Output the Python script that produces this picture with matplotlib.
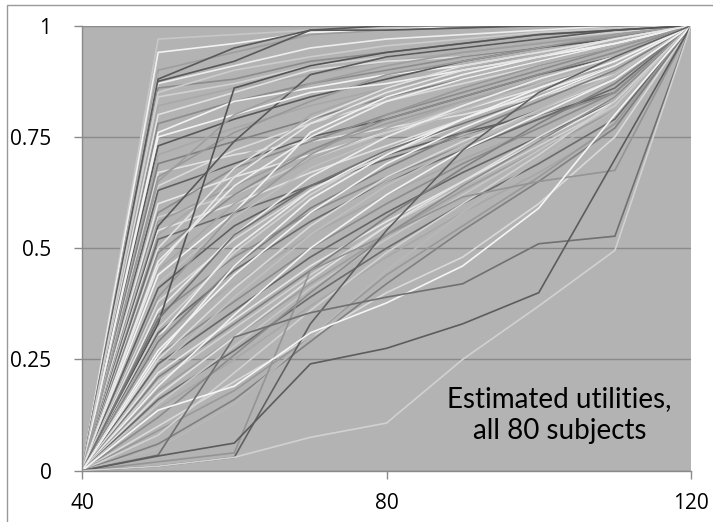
import matplotlib
matplotlib.use("Agg")
import matplotlib.pyplot as plt
from matplotlib.patches import Rectangle

# price levels (x) and the estimated utility of each subject at 50..110
# (every curve starts at 0 for 40 and ends at 1 for 120)
prices = [40, 50, 60, 70, 80, 90, 100, 110, 120]

utilities = [
    [0.97, 0.98, 0.99, 0.995, 1.0, 1.0, 1.0],
    [0.94, 0.96, 0.985, 0.99, 1.0, 1.0, 1.0],
    [0.90, 0.94, 0.98, 0.99, 0.995, 1.0, 1.0],
    [0.89, 0.93, 0.965, 0.985, 0.99, 1.0, 1.0],
    [0.875, 0.92, 0.99, 0.99, 0.995, 1.0, 1.0],
    [0.87, 0.91, 0.95, 0.97, 0.98, 0.99, 1.0],
    [0.86, 0.88, 0.92, 0.94, 0.96, 0.98, 0.99],
    [0.84, 0.87, 0.91, 0.93, 0.95, 0.97, 0.985],
    [0.82, 0.86, 0.89, 0.92, 0.94, 0.96, 0.98],
    [0.80, 0.85, 0.90, 0.92, 0.93, 0.95, 0.97],
    [0.78, 0.83, 0.87, 0.90, 0.93, 0.95, 0.975],
    [0.76, 0.83, 0.86, 0.89, 0.91, 0.94, 0.97],
    [0.88, 0.95, 0.99, 1.0, 1.0, 1.0, 1.0],
    [0.85, 0.90, 0.93, 0.955, 0.97, 0.985, 0.995],
    [0.73, 0.79, 0.84, 0.88, 0.92, 0.95, 0.97],
    [0.71, 0.77, 0.82, 0.86, 0.89, 0.93, 0.96],
    [0.69, 0.74, 0.79, 0.84, 0.88, 0.92, 0.96],
    [0.67, 0.71, 0.74, 0.77, 0.80, 0.84, 0.89],
    [0.66, 0.76, 0.83, 0.89, 0.92, 0.95, 0.98],
    [0.64, 0.72, 0.78, 0.83, 0.87, 0.91, 0.95],
    [0.63, 0.69, 0.75, 0.79, 0.84, 0.89, 0.93],
    [0.61, 0.70, 0.77, 0.85, 0.89, 0.93, 0.96],
    [0.60, 0.66, 0.71, 0.76, 0.81, 0.86, 0.92],
    [0.58, 0.68, 0.74, 0.80, 0.85, 0.90, 0.95],
    [0.57, 0.62, 0.70, 0.76, 0.82, 0.88, 0.93],
    [0.56, 0.64, 0.72, 0.78, 0.83, 0.87, 0.91],
    [0.55, 0.74, 0.89, 0.93, 0.95, 0.97, 0.99],
    [0.54, 0.60, 0.67, 0.73, 0.79, 0.85, 0.91],
    [0.53, 0.66, 0.80, 0.86, 0.90, 0.94, 0.97],
    [0.52, 0.58, 0.64, 0.70, 0.75, 0.81, 0.88],
    [0.75, 0.80, 0.85, 0.87, 0.90, 0.93, 0.96],
    [0.65, 0.80, 0.87, 0.91, 0.94, 0.96, 0.98],
    [0.50, 0.68, 0.79, 0.86, 0.91, 0.94, 0.97],
    [0.49, 0.62, 0.72, 0.79, 0.84, 0.89, 0.94],
    [0.47, 0.64, 0.75, 0.83, 0.88, 0.92, 0.96],
    [0.45, 0.60, 0.70, 0.77, 0.83, 0.88, 0.93],
    [0.44, 0.58, 0.76, 0.84, 0.89, 0.93, 0.96],
    [0.42, 0.57, 0.68, 0.75, 0.81, 0.87, 0.92],
    [0.41, 0.55, 0.64, 0.71, 0.76, 0.80, 0.85],
    [0.39, 0.58, 0.71, 0.80, 0.86, 0.91, 0.95],
    [0.38, 0.52, 0.63, 0.71, 0.78, 0.84, 0.90],
    [0.37, 0.50, 0.61, 0.69, 0.75, 0.80, 0.86],
    [0.36, 0.53, 0.66, 0.75, 0.82, 0.88, 0.93],
    [0.35, 0.48, 0.58, 0.66, 0.73, 0.79, 0.85],
    [0.33, 0.86, 0.91, 0.94, 0.96, 0.98, 0.99],
    [0.32, 0.49, 0.62, 0.72, 0.79, 0.85, 0.91],
    [0.31, 0.45, 0.56, 0.65, 0.72, 0.79, 0.86],
    [0.30, 0.50, 0.63, 0.72, 0.79, 0.85, 0.91],
    [0.30, 0.42, 0.53, 0.62, 0.70, 0.77, 0.85],
    [0.29, 0.46, 0.59, 0.68, 0.76, 0.83, 0.90],
    [0.46, 0.66, 0.78, 0.85, 0.90, 0.93, 0.97],
    [0.34, 0.53, 0.64, 0.72, 0.78, 0.84, 0.91],
    [0.28, 0.42, 0.55, 0.65, 0.73, 0.80, 0.88],
    [0.27, 0.44, 0.58, 0.69, 0.77, 0.84, 0.91],
    [0.26, 0.38, 0.50, 0.60, 0.69, 0.77, 0.85],
    [0.25, 0.41, 0.55, 0.66, 0.74, 0.81, 0.88],
    [0.24, 0.36, 0.48, 0.58, 0.67, 0.75, 0.83],
    [0.23, 0.39, 0.53, 0.64, 0.73, 0.81, 0.89],
    [0.22, 0.34, 0.46, 0.56, 0.65, 0.74, 0.83],
    [0.21, 0.33, 0.45, 0.57, 0.68, 0.78, 0.87],
    [0.20, 0.32, 0.44, 0.55, 0.64, 0.73, 0.82],
    [0.19, 0.35, 0.50, 0.62, 0.72, 0.80, 0.88],
    [0.18, 0.30, 0.42, 0.53, 0.63, 0.72, 0.81],
    [0.17, 0.30, 0.43, 0.55, 0.65, 0.75, 0.84],
    [0.16, 0.27, 0.39, 0.50, 0.60, 0.69, 0.79],
    [0.15, 0.28, 0.41, 0.52, 0.62, 0.72, 0.82],
    [0.14, 0.25, 0.37, 0.48, 0.58, 0.67, 0.77],
    [0.12, 0.26, 0.40, 0.53, 0.64, 0.74, 0.84],
    [0.26, 0.46, 0.61, 0.71, 0.79, 0.86, 0.92],
    [0.10, 0.20, 0.30, 0.40, 0.48, 0.60, 0.75],
    [0.09, 0.18, 0.30, 0.44, 0.55, 0.66, 0.78],
    [0.08, 0.22, 0.36, 0.49, 0.60, 0.71, 0.83],
    [0.06, 0.16, 0.29, 0.42, 0.54, 0.65, 0.77],
    [0.05, 0.15, 0.30, 0.45, 0.58, 0.70, 0.81],
    [0.02, 0.04, 0.45, 0.53, 0.615, 0.65, 0.675],
    [0.01, 0.03, 0.33, 0.54, 0.72, 0.85, 0.93],
    [0.136, 0.19, 0.31, 0.377, 0.46, 0.59, 0.80],
    [0.035, 0.30, 0.355, 0.39, 0.42, 0.51, 0.527],
    [0.033, 0.062, 0.24, 0.275, 0.33, 0.40, 0.70],
    [0.01, 0.03, 0.075, 0.107, 0.25, 0.37, 0.495],
]

# grey level of each subject's line (0 = black, 1 = white)
shades = [
    0.78, 0.95, 0.62, 0.70, 0.35, 0.93, 0.55, 0.82, 0.66, 0.88,
    0.55, 0.95, 0.35, 0.80, 0.35, 0.66, 0.50, 0.88, 0.60, 0.85,
    0.38, 0.70, 0.90, 0.55, 0.80, 0.62, 0.35, 0.88, 0.66, 0.42,
    0.95, 0.62, 0.88, 0.55, 0.93, 0.66, 0.95, 0.75, 0.38, 0.60,
    0.85, 0.70, 0.92, 0.55, 0.33, 0.82, 0.42, 0.93, 0.66, 0.50,
    0.90, 0.45, 0.70, 0.95, 0.55, 0.85, 0.40, 0.75, 0.90, 0.50,
    0.82, 0.95, 0.62, 0.88, 0.42, 0.78, 0.66, 0.55, 0.95, 0.85,
    0.60, 0.82, 0.50, 0.72, 0.58, 0.38, 0.96, 0.44, 0.36, 0.82,
]

fig = plt.figure(figsize=(7.13, 5.22), dpi=100)
fig.patch.set_facecolor("white")
# outer chart border (runs off the bottom/right of the picture)
fig.patches.append(Rectangle((7 / 713, -0.5), 2, 1.5 - 5 / 522, transform=fig.transFigure,
                             fill=False, edgecolor="#999999", linewidth=1.0))

ax = fig.add_axes([82 / 713, 1 - 470.7 / 522, 609 / 713, 445 / 522])
ax.set_facecolor("#b3b3b3")

for vals, g in zip(utilities, shades):
    ys = [0] + vals + [1]
    ax.plot(prices, ys, color=(g, g, g), linewidth=1.2, solid_joinstyle="miter")

ax.set_xlim(40, 120)
ax.set_ylim(0, 1)
ax.set_xticks([40, 80, 120])
ax.set_xticklabels(["40", "80", "120"])
ax.set_yticks([0, 0.25, 0.5, 0.75, 1])
ax.set_yticklabels(["0", "0.25", "0.5", "0.75", "1"])
ax.yaxis.grid(True, color="#8a8a8a", linewidth=1.0)
ax.set_axisbelow(True)

for side in ["top", "right"]:
    ax.spines[side].set_visible(False)
for side in ["left", "bottom"]:
    ax.spines[side].set_color("#8a8a8a")
    ax.spines[side].set_linewidth(1.0)

ax.tick_params(axis="both", direction="out", length=6, width=1.0, color="#8a8a8a",
               labelsize=15, labelcolor="black")
ax.tick_params(axis="x", pad=10)
ax.tick_params(axis="y", pad=16)
for lab in ax.get_xticklabels() + ax.get_yticklabels():
    lab.set_family(["Open Sans", "DejaVu Sans"])

ax.text(102.7, 0.125, "Estimated utilities,\nall 80 subjects", ha="center", va="center",
        fontsize=20, family=["Lato", "DejaVu Sans"], linespacing=1.25)

fig.savefig("out.png", dpi=100)
